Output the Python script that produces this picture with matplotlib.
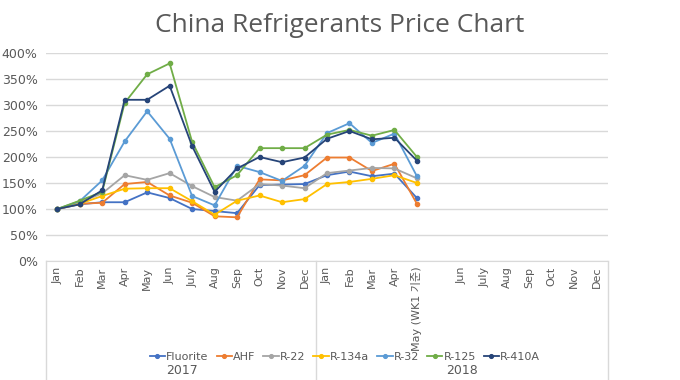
import numpy as np
import matplotlib
matplotlib.use('Agg')
import matplotlib.pyplot as plt

# Categorías del eje x (2017: 12 meses, 2018: 13 posiciones, una vacía)
meses_2017 = ['Jan', 'Feb', 'Mar', 'Apr', 'May', 'Jun', 'July', 'Aug', 'Sep', 'Oct', 'Nov', 'Dec']
meses_2018 = ['Jan', 'Feb', 'Mar', 'Apr', 'May (WK1 기준)', '', 'Jun', 'July', 'Aug', 'Sep', 'Oct', 'Nov', 'Dec']
etiquetas = meses_2017 + meses_2018
grupos = ['2017', '2018']

# Valores en % (Jan 2017 = 100%)
fluorite = [100, 109, 113, 113, 132, 121, 100, 96, 92, 146, 147, 148, 165, 172, 163, 168, 121]
ahf = [100, 110, 112, 148, 152, 126, 112, 86, 84, 157, 155, 165, 199, 199, 173, 187, 110]
r22 = [100, 113, 130, 165, 156, 169, 144, 123, 116, 148, 145, 140, 169, 174, 179, 178, 159]
r134a = [100, 110, 125, 139, 140, 140, 115, 89, 116, 126, 113, 119, 148, 152, 158, 165, 150]
r32 = [100, 115, 155, 230, 288, 235, 125, 107, 183, 171, 154, 183, 246, 265, 227, 245, 163]
r125 = [100, 116, 133, 304, 359, 380, 229, 142, 165, 217, 217, 217, 243, 252, 241, 252, 200]
r410a = [100, 109, 136, 310, 310, 337, 221, 133, 178, 200, 190, 199, 235, 250, 234, 237, 193]

series = [
    ('Fluorite', fluorite, '#4472C4'),
    ('AHF', ahf, '#ED7D31'),
    ('R-22', r22, '#A5A5A5'),
    ('R-134a', r134a, '#FFC000'),
    ('R-32', r32, '#5B9BD5'),
    ('R-125', r125, '#70AD47'),
    ('R-410A', r410a, '#264478'),
]

gris_texto = '#595959'
gris_linea = '#D9D9D9'

fig = plt.figure(figsize=(6.8, 3.8), dpi=100)
ax = fig.add_axes([46 / 680, 1 - 261 / 380, 562 / 680, 208 / 380])

x = np.arange(len(etiquetas))
for nombre, valores, color in series:
    y = np.full(len(etiquetas), np.nan)
    y[:len(valores)] = valores
    ax.plot(x, y, color=color, linewidth=1.3, marker='o', markersize=3,
            label=nombre, zorder=3)

ax.set_xlim(-0.5, len(etiquetas) - 0.5)
ax.set_ylim(0, 400)
ax.set_yticks(np.arange(0, 401, 50))
ax.set_yticklabels([f'{v}%' for v in range(0, 401, 50)], fontsize=9, color=gris_texto)
ax.yaxis.grid(True, color=gris_linea, linewidth=1)
ax.set_axisbelow(True)
ax.tick_params(axis='y', length=0, pad=6)

ax.set_xticks(x)
ax.set_xticklabels(etiquetas, rotation=90, fontsize=8, color=gris_texto,
                   family=['DejaVu Sans', 'Noto Sans CJK KR'], va='top')
ax.tick_params(axis='x', length=0, pad=4)

for lado in ['top', 'right', 'left']:
    ax.spines[lado].set_visible(False)
ax.spines['bottom'].set_color(gris_linea)

# Separadores de grupos (eje multinivel)
trans = ax.get_xaxis_transform()
for xs in [-0.5, 11.5, len(etiquetas) - 0.5]:
    ax.plot([xs, xs], [0, -120 / 208], transform=trans, color=gris_linea,
            linewidth=1, clip_on=False)

fig.text(182 / 680, 1 - 370 / 380, grupos[0], ha='center', va='center',
         fontsize=9, color=gris_texto)
fig.text(462 / 680, 1 - 370 / 380, grupos[1], ha='center', va='center',
         fontsize=9, color=gris_texto)

fig.legend(loc='center', bbox_to_anchor=(345 / 680, 1 - 357 / 380), ncol=7,
           frameon=False, fontsize=8, labelcolor=gris_texto, handlelength=1.4,
           handletextpad=0.1, columnspacing=0.7, markerscale=0.9)

fig.text(0.5, 1 - 26 / 380, 'China Refrigerants Price Chart', ha='center',
         va='center', fontsize=19, color=gris_texto, family='Open Sans')

fig.savefig('out.png', dpi=100)
